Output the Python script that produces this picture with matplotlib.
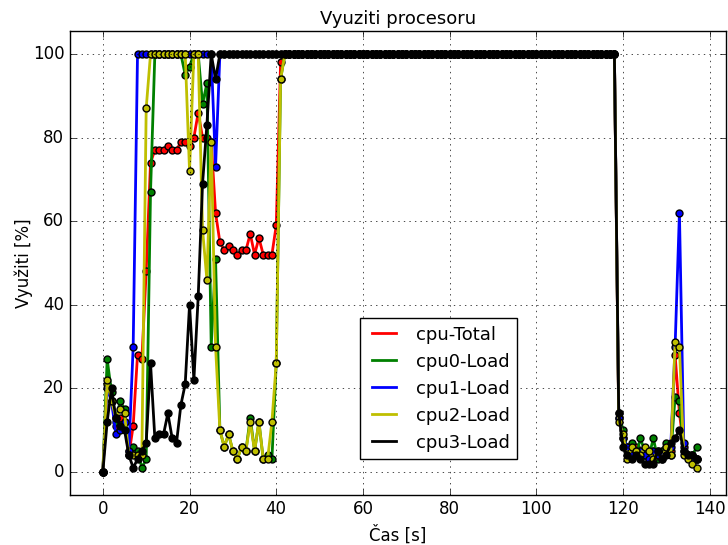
import numpy as np
import matplotlib
matplotlib.use('Agg')
import matplotlib.pyplot as plt
from matplotlib.lines import Line2D

# cas [s]
t = np.arange(0, 138)

# hodnoty pro t = 0..41
total_head = [0, 21, 17, 11, 13, 12, 4, 11, 28, 27, 48, 74, 77, 77, 77, 78, 77, 77, 79, 79,
              78, 80, 86, 80, 80, 79, 62, 55, 53, 54, 53, 52, 53, 53, 57, 52, 56, 52, 52, 52,
              59, 98]
cpu0_head = [0, 27, 19, 12, 17, 15, 5, 6, 5, 1, 3, 67, 100, 100, 100, 100, 100, 100, 100, 95,
             97, 100, 100, 88, 93, 30, 51, 10, 6, 9, 5, 3, 6, 5, 13, 5, 12, 3, 4, 3,
             26, 94]
cpu1_head = [0, 20, 17, 9, 10, 12, 5, 30] + [100] * 18 + [73] + [100] * 15
cpu2_head = [0, 22, 17, 13, 15, 14, 4, 4, 4, 4, 87, 100, 100, 100, 100, 100, 100, 100, 100, 100,
             72, 100, 100, 58, 46, 79, 30, 10, 6, 9, 5, 3, 6, 5, 12, 5, 12, 3, 3, 12,
             26, 94]
cpu3_head = [0, 12, 20, 13, 11, 10, 4, 1, 3, 5, 7, 26, 8, 9, 9, 14, 8, 7, 16, 21,
             40, 22, 42, 69, 83, 100, 94] + [100] * 15

# t = 42..118 vse na 100 %
full_load = [100] * 77

# hodnoty pro t = 119..137
total_tail = [13, 8, 6, 5, 6, 5, 4, 5, 5, 4, 5, 6, 5, 28, 14, 6, 4, 4, 3]
cpu0_tail = [14, 10, 5, 7, 4, 8, 5, 4, 8, 3, 5, 7, 4, 18, 17, 5, 4, 4, 6]
cpu1_tail = [13, 8, 6, 4, 5, 5, 4, 3, 5, 4, 4, 5, 6, 30, 62, 7, 4, 3, 3]
cpu2_tail = [12, 9, 3, 6, 5, 4, 6, 5, 3, 5, 3, 6, 4, 31, 30, 4, 3, 2, 1]
cpu3_tail = [14, 6, 4, 3, 4, 3, 2, 2, 2, 5, 3, 4, 7, 8, 10, 5, 4, 4, 3]

names = ['cpu-Total', 'cpu0-Load', 'cpu1-Load', 'cpu2-Load', 'cpu3-Load']
colors = ['r', 'g', 'b', 'y', 'k']
series = [
    total_head + full_load + total_tail,
    cpu0_head + full_load + cpu0_tail,
    cpu1_head + full_load + cpu1_tail,
    cpu2_head + full_load + cpu2_tail,
    cpu3_head + full_load + cpu3_tail,
]

plt.style.use('classic')
fig = plt.figure(figsize=(7.28, 5.45), dpi=100, facecolor='white')
ax = fig.add_axes([0.096, 0.092, 0.901, 0.851])

for vals, c in zip(series, colors):
    ax.plot(t, vals, '-o', color=c, lw=2, ms=5, mec='k', mew=1)

ax.set_xlim(-7.6, 143.7)
ax.set_ylim(-5.5, 105.5)
ax.set_xticks(range(0, 141, 20))
ax.set_yticks(range(0, 101, 20))
ax.grid(True)
ax.tick_params(labelsize=12)

ax.set_title('Vyuziti procesoru', fontsize=13)
ax.set_xlabel('Čas [s]', fontsize=12)
ax.set_ylabel('Využiti [%]', fontsize=12, labelpad=0)

handles = [Line2D([], [], color=c, lw=2) for c in colors]
ax.legend(handles, names, loc='lower left', bbox_to_anchor=(0.428, 0.058),
          fontsize=13, fancybox=False, handlelength=1.9)

fig.savefig('out.png', dpi=100, facecolor='white')
